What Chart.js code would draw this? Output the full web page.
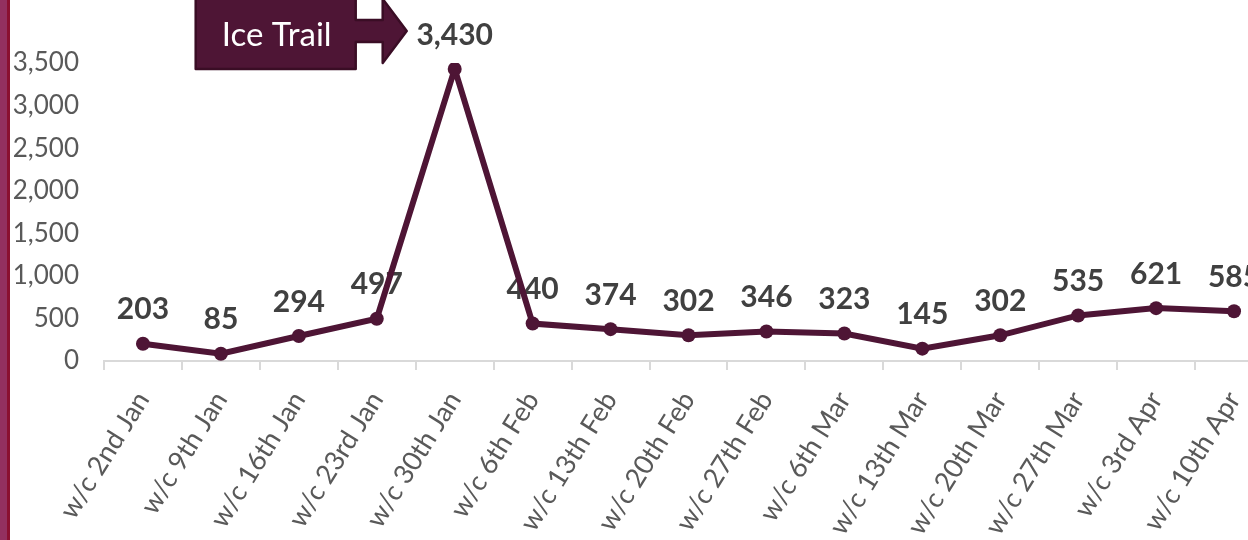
<!DOCTYPE html>
<html>
<head>
<meta charset="utf-8">
<script src="https://cdn.jsdelivr.net/npm/chart.js@4"></script>
<style>
  html, body { margin: 0; padding: 0; background: #fff; overflow: hidden; }
  #wrap { position: relative; width: 1280px; height: 540px; }
</style>
</head>
<body>
<div id="wrap"><canvas id="c"></canvas></div>
<script>
// ── Data ──────────────────────────────────────────────
const weeks = ['w/c 2nd Jan', 'w/c 9th Jan', 'w/c 16th Jan', 'w/c 23rd Jan', 'w/c 30th Jan',
  'w/c 6th Feb', 'w/c 13th Feb', 'w/c 20th Feb', 'w/c 27th Feb', 'w/c 6th Mar',
  'w/c 13th Mar', 'w/c 20th Mar', 'w/c 27th Mar', 'w/c 3rd Apr', 'w/c 10th Apr'];
const visits = [203, 85, 294, 497, 3430, 440, 374, 302, 346, 323, 145, 302, 535, 621, 585];
const yTicks = [0, 500, 1000, 1500, 2000, 2500, 3000, 3500];
const calloutText = 'Ice Trail';

const MAROON = '#4e1535';
const FONT = 'Lato, "Open Sans", sans-serif';

// value labels, drawn under the line like the original
const valueLabels = {
  id: 'valueLabels',
  beforeDatasetsDraw(chart) {
    const ctx = chart.ctx;
    const meta = chart.getDatasetMeta(0);
    ctx.save();
    ctx.fillStyle = '#404040';
    ctx.font = 'bold 30px ' + FONT;
    ctx.textAlign = 'center';
    ctx.textBaseline = 'middle';
    meta.data.forEach((pt, i) => {
      ctx.fillText(visits[i].toLocaleString('en-US'), pt.x, pt.y - 34);
    });
    ctx.restore();
  }
};

// side bar + "Ice Trail" arrow callout pointing at the peak
const decorations = {
  id: 'decorations',
  afterDraw(chart) {
    const ctx = chart.ctx;
    ctx.save();
    ctx.fillStyle = '#93305f';
    ctx.fillRect(0, 0, 7, 540);
    ctx.fillStyle = '#8a1030';
    ctx.fillRect(7, 0, 3, 540);

    const meta = chart.getDatasetMeta(0);
    const peak = visits.indexOf(Math.max(...visits));
    const tipX = meta.data[peak].x - 48;
    const tipY = 31;
    ctx.beginPath();
    ctx.moveTo(tipX - 211, -5);
    ctx.lineTo(tipX - 51, -5);
    ctx.lineTo(tipX - 51, tipY - 11);
    ctx.lineTo(tipX - 24, tipY - 11);
    ctx.lineTo(tipX - 24, tipY - 32);
    ctx.lineTo(tipX, tipY);
    ctx.lineTo(tipX - 24, tipY + 32);
    ctx.lineTo(tipX - 24, tipY + 11);
    ctx.lineTo(tipX - 51, tipY + 11);
    ctx.lineTo(tipX - 51, 69);
    ctx.lineTo(tipX - 211, 69);
    ctx.closePath();
    ctx.fillStyle = MAROON;
    ctx.fill();
    ctx.lineWidth = 2.5;
    ctx.lineJoin = 'round';
    ctx.strokeStyle = '#3a0d25';
    ctx.stroke();

    ctx.fillStyle = '#ffffff';
    ctx.font = '33px ' + FONT;
    ctx.textAlign = 'center';
    ctx.textBaseline = 'middle';
    ctx.fillText(calloutText, tipX - 130, 35);
    ctx.restore();
  }
};

new Chart(document.getElementById('c'), {
  type: 'line',
  data: {
    labels: weeks,
    datasets: [{
      data: visits,
      borderColor: MAROON,
      backgroundColor: MAROON,
      borderWidth: 6,
      pointRadius: 7,
      pointBackgroundColor: MAROON,
      pointBorderWidth: 0,
      tension: 0,
    }]
  },
  options: {
    responsive: true,
    maintainAspectRatio: false,
    animation: false,
    layout: { padding: { left: 10, right: 6, top: 63, bottom: 0 } },
    plugins: { legend: { display: false }, tooltip: { enabled: false } },
    scales: {
      x: {
        offset: true,
        grid: { offset: true, drawOnChartArea: false, drawTicks: true, tickLength: 9, color: '#d9d9d9', lineWidth: 2 },
        border: { color: '#d9d9d9', width: 2 },
        ticks: {
          autoSkip: false, minRotation: 58, maxRotation: 58, padding: 16,
          color: '#595959', font: { family: FONT, size: 27 },
        },
        afterFit: (s) => { s.height = 179; },
      },
      y: {
        min: 0, max: 3500,
        afterBuildTicks: (s) => { s.ticks = yTicks.map(v => ({ value: v })); },
        grid: { display: false },
        border: { display: false },
        ticks: {
          padding: 17, color: '#595959', font: { family: FONT, size: 26 },
          callback: (v) => v.toLocaleString('en-US'),
        },
        afterFit: (s) => { s.width = 94; },
      }
    }
  },
  plugins: [valueLabels, decorations]
});
</script>
</body>
</html>
